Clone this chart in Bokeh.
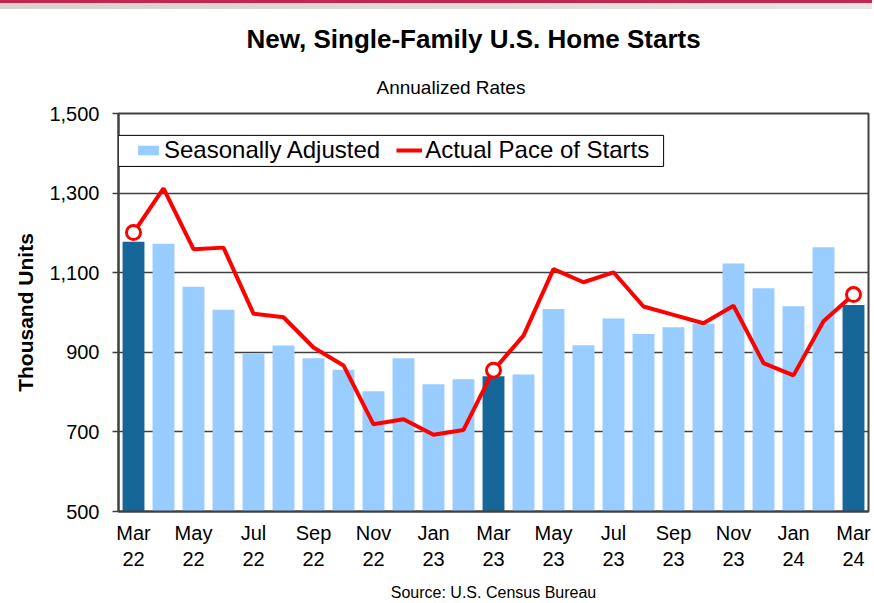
from bokeh.plotting import figure
from bokeh.layouts import column
from bokeh.models import (Range1d, FixedTicker, NumeralTickFormatter, Title, Div,
                          Legend, LegendItem, BoxAnnotation, ColumnDataSource)
from bokeh.embed import file_html
from bokeh.resources import INLINE

# ---------------- data ----------------
months = ["Mar 22", "Apr 22", "May 22", "Jun 22", "Jul 22", "Aug 22", "Sep 22",
          "Oct 22", "Nov 22", "Dec 22", "Jan 23", "Feb 23", "Mar 23", "Apr 23",
          "May 23", "Jun 23", "Jul 23", "Aug 23", "Sep 23", "Oct 23", "Nov 23",
          "Dec 23", "Jan 24", "Feb 24", "Mar 24"]
seasonally_adjusted = [1178, 1173, 1065, 1007, 897, 917, 885, 856, 802, 885, 820, 832,
                       840, 844, 1009, 918, 985, 946, 963, 972, 1123, 1061, 1016, 1164, 1019]
actual_pace = [1201, 1312, 1159, 1163, 997, 988, 912, 867, 719, 732, 693, 705,
               855, 942, 1109, 1076, 1101, 1015, 994, 973, 1017, 873, 842, 978, 1045]
highlight_months = ["Mar 22", "Mar 23", "Mar 24"]
labeled_months = ["Mar 22", "May 22", "Jul 22", "Sep 22", "Nov 22", "Jan 23", "Mar 23",
                  "May 23", "Jul 23", "Sep 23", "Nov 23", "Jan 24", "Mar 24"]
y_ticks = [500, 700, 900, 1100, 1300, 1500]

title_text = "New, Single-Family U.S. Home Starts"
subtitle_text = "Annualized Rates"
source_text = "Source: U.S. Census Bureau"
y_label = "Thousand Units"

# ---------------- styles ----------------
FONT = "Liberation Sans"
LIGHT = "#99ccff"
DARK = "#176699"
RED = "#ff0000"
GRID = "#404040"
BAND = 9

idx = list(range(len(months)))
colors = [DARK if m in highlight_months else LIGHT for m in months]
src = ColumnDataSource(dict(pos=idx, month=months, sa=seasonally_adjusted,
                            actual=actual_pace, color=colors))
hi_idx = [months.index(m) for m in highlight_months]
hi_src = ColumnDataSource(dict(pos=hi_idx, actual=[actual_pace[i] for i in hi_idx]))

p = figure(width=872, height=603 - BAND,
           x_range=Range1d(-0.5, len(months) - 0.5),
           y_range=Range1d(y_ticks[0], y_ticks[-1]),
           output_backend="svg", toolbar_location=None,
           min_border_left=118, min_border_right=4,
           min_border_top=113 - BAND, min_border_bottom=91)
p.background_fill_color = "white"
p.border_fill_color = "white"
p.outline_line_color = GRID
p.outline_line_width = 2

# grid
p.xgrid.visible = False
p.ygrid.ticker = FixedTicker(ticks=y_ticks)
p.ygrid.grid_line_color = GRID
p.ygrid.grid_line_width = 1.6

# y axis
p.yaxis.ticker = FixedTicker(ticks=y_ticks)
p.yaxis.formatter = NumeralTickFormatter(format="0,0")
p.yaxis.major_label_text_font = FONT
p.yaxis.major_label_text_font_size = "20px"
p.yaxis.major_label_text_color = "black"
p.yaxis.major_tick_out = 6
p.yaxis.major_tick_in = 0
p.yaxis.major_tick_line_color = GRID
p.yaxis.major_tick_line_width = 1.6
p.yaxis.minor_tick_line_color = None
p.yaxis.axis_line_color = GRID
p.yaxis.axis_line_width = 2
p.yaxis.major_label_standoff = 13
p.yaxis.axis_label = y_label
p.yaxis.axis_label_text_font = FONT
p.yaxis.axis_label_text_font_style = "bold"
p.yaxis.axis_label_text_font_size = "21px"
p.yaxis.axis_label_text_color = "black"
p.yaxis.axis_label_standoff = 9

# x axis (source note carried as the axis label)
tick_pos = [months.index(m) for m in labeled_months]
p.xaxis.ticker = FixedTicker(ticks=tick_pos)
p.xaxis.major_label_overrides = {months.index(m): m.replace(" ", "\n") for m in labeled_months}
p.xaxis.major_label_text_font = FONT
p.xaxis.major_label_text_font_size = "20px"
p.xaxis.major_label_text_color = "black"
p.xaxis.major_label_text_line_height = 1.2
p.xaxis.major_tick_line_color = None
p.xaxis.minor_tick_line_color = None
p.xaxis.axis_line_color = GRID
p.xaxis.axis_line_width = 2
p.xaxis.major_label_standoff = 4
p.xaxis.axis_label = source_text
p.xaxis.axis_label_text_font = FONT
p.xaxis.axis_label_text_font_size = "16px"
p.xaxis.axis_label_text_font_style = "normal"
p.xaxis.axis_label_text_color = "black"
p.xaxis.axis_label_standoff = 11

# bars and line
r_bar = p.vbar(x="pos", top="sa", bottom=y_ticks[0], width=0.73,
               fill_color="color", line_color=None, source=src)
r_line = p.line(x="pos", y="actual", line_color=RED, line_width=4, source=src)
p.scatter(x="pos", y="actual", size=14, fill_color="white",
          line_color=RED, line_width=3, source=hi_src)

# legend box + legend
box = BoxAnnotation(left=-0.5, right=17.67, top=1445, bottom=1367,
                    fill_color="white", fill_alpha=1,
                    line_color="black", line_width=1, line_alpha=1)
p.add_layout(box)
legend = Legend(items=[LegendItem(label="Seasonally Adjusted", renderers=[r_bar], index=1),
                       LegendItem(label="Actual Pace of Starts", renderers=[r_line])],
                orientation="horizontal", location=(17, 347), padding=0, margin=0,
                spacing=16, label_standoff=3, glyph_width=26, glyph_height=12,
                label_text_font=FONT, label_text_font_size="24px",
                label_text_color="black",
                border_line_color=None, background_fill_alpha=0)
p.add_layout(legend)

# titles
p.add_layout(Title(text=subtitle_text, align="left", offset=258,
                   text_font=FONT, text_font_size="19px", text_font_style="normal",
                   text_color="black", standoff=32), "above")
p.add_layout(Title(text=title_text, align="left", offset=128,
                   text_font=FONT, text_font_size="26px", text_font_style="bold",
                   text_color="black", standoff=10), "above")

band = Div(text="", width=872, height=BAND, margin=0,
           styles={"background": "linear-gradient(to bottom, #c3264f 0px, #c3264f 3px, "
                                 "transparent 3px), linear-gradient(to right, #d6d3ce, #e7e5e1)"})

layout = column(band, p, spacing=0)
open("out.html", "w").write(file_html(layout, INLINE))
